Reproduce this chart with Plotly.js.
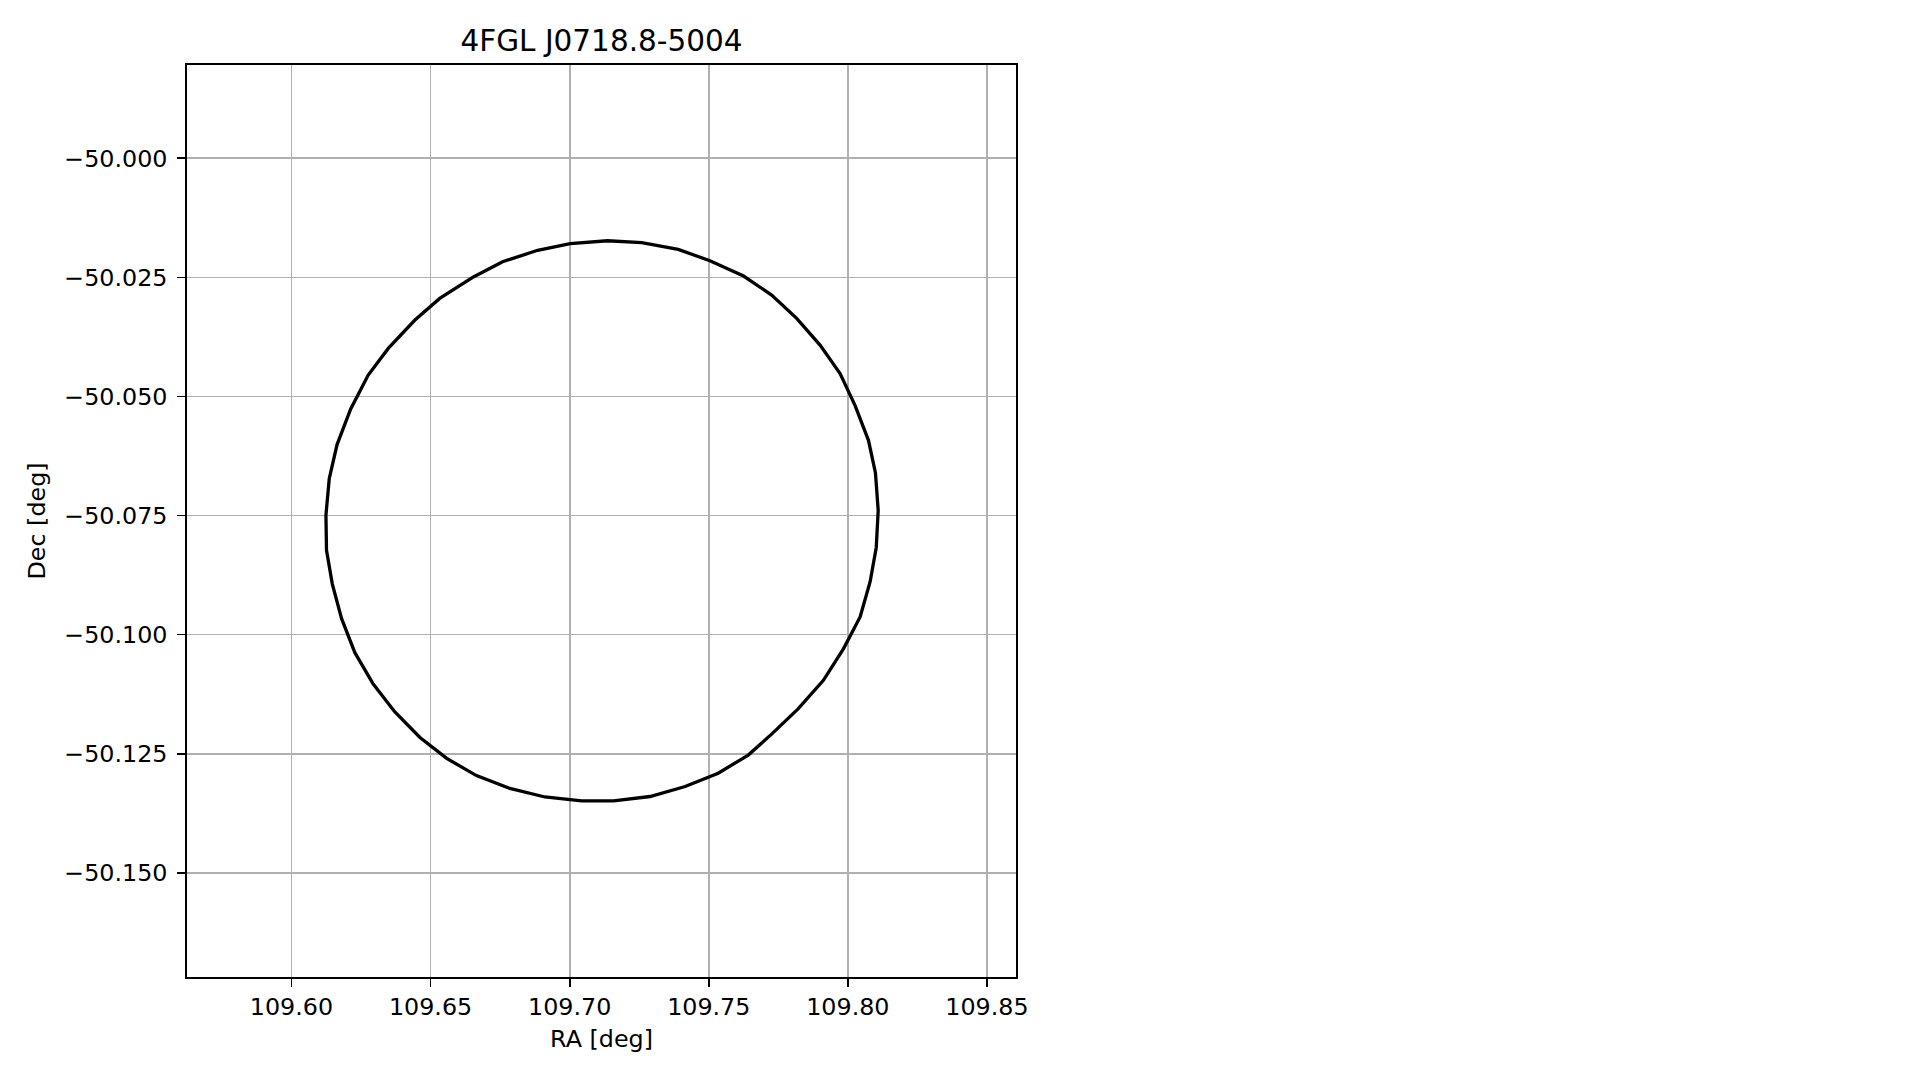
<!DOCTYPE html>
<html>
<head>
<meta charset="utf-8">
<script src="https://cdn.plot.ly/plotly-3.0.1.min.js"></script>
<style>
  html, body { margin: 0; padding: 0; background: #ffffff; }
  #chart { width: 1919px; height: 1080px; }
</style>
</head>
<body>
<div id="chart"></div>
<script>
// Error-contour vertices (RA, Dec in degrees)
const ra = [
  109.6124, 109.6136, 109.6164, 109.6213, 109.6276, 109.6348, 109.6443, 109.6533,
  109.6654, 109.6759, 109.6885, 109.7002, 109.7136, 109.7259, 109.7390, 109.7504,
  109.7625, 109.7726, 109.7816, 109.7900, 109.7972, 109.8026, 109.8074, 109.8099,
  109.8109, 109.8102, 109.8080, 109.8044, 109.7984, 109.7912, 109.7821, 109.7724,
  109.7642, 109.7534, 109.7415, 109.7289, 109.7158, 109.7043, 109.6911, 109.6785,
  109.6665, 109.6558, 109.6462, 109.6371, 109.6294, 109.6228, 109.6180, 109.6147,
  109.6126, 109.6124
];
const dec = [
  -50.0749, -50.0672, -50.0601, -50.0526, -50.0455, -50.0399, -50.0340, -50.0294,
  -50.0249, -50.0217, -50.0193, -50.0179, -50.0173, -50.0177, -50.0191, -50.0215,
  -50.0247, -50.0287, -50.0336, -50.0392, -50.0452, -50.0519, -50.0592, -50.0660,
  -50.0739, -50.0817, -50.0889, -50.0963, -50.1030, -50.1096, -50.1156, -50.1210,
  -50.1253, -50.1291, -50.1319, -50.1340, -50.1349, -50.1349, -50.1341, -50.1323,
  -50.1296, -50.1260, -50.1216, -50.1162, -50.1104, -50.1038, -50.0966, -50.0894,
  -50.0823, -50.0749
];

const xTickVals = [109.60, 109.65, 109.70, 109.75, 109.80, 109.85];
const xTickText = ["109.60", "109.65", "109.70", "109.75", "109.80", "109.85"];
const yTickVals = [-50.000, -50.025, -50.050, -50.075, -50.100, -50.125, -50.150];
const yTickText = ["\u221250.000", "\u221250.025", "\u221250.050", "\u221250.075", "\u221250.100", "\u221250.125", "\u221250.150"];

const titleText = "4FGL J0718.8-5004";
const xLabel = "RA [deg]";
const yLabel = "Dec [deg]";

const FONT = "DejaVu Sans, Liberation Sans, sans-serif";
const TICK_SIZE = 23.8;
const TITLE_SIZE = 29.5;

const trace = {
  x: ra,
  y: dec,
  type: "scatter",
  mode: "lines",
  line: { color: "#000000", width: 3.3 },
  hoverinfo: "skip",
  showlegend: false
};

const axisCommon = {
  showline: true,
  mirror: true,
  linecolor: "#000000",
  linewidth: 1.8,
  showgrid: true,
  gridcolor: "#b0b0b0",
  gridwidth: 1.8,
  zeroline: false,
  ticks: "outside",
  ticklen: 8,
  tickwidth: 1.8,
  tickcolor: "#000000",
  tickmode: "array",
  automargin: false,
  tickfont: { family: FONT, size: TICK_SIZE, color: "#000000" }
};

const layout = {
  width: 1919,
  height: 1080,
  paper_bgcolor: "#ffffff",
  plot_bgcolor: "#ffffff",
  margin: { l: 187, r: 903, t: 65, b: 103, pad: 0 },
  font: { family: FONT, color: "#000000" },
  title: {
    text: titleText,
    font: { family: FONT, size: TITLE_SIZE, color: "#000000" },
    x: 0.5,
    xref: "paper",
    xanchor: "center",
    y: 1 - 41 / 1080,
    yref: "container",
    yanchor: "middle"
  },
  xaxis: Object.assign({}, axisCommon, {
    range: [109.56246, 109.86043],
    tickvals: xTickVals,
    ticktext: xTickText,
    ticklabelstandoff: 0,
    title: { text: xLabel, font: { family: FONT, size: TICK_SIZE, color: "#000000" }, standoff: 10 }
  }),
  yaxis: Object.assign({}, axisCommon, {
    range: [-50.17190, -49.98039],
    tickvals: yTickVals,
    ticktext: yTickText,
    ticklabelstandoff: 5,
    title: { text: yLabel, font: { family: FONT, size: TICK_SIZE, color: "#000000" }, standoff: 12 }
  })
};

Plotly.newPlot("chart", [trace], layout, { displayModeBar: false, staticPlot: true });
</script>
</body>
</html>
